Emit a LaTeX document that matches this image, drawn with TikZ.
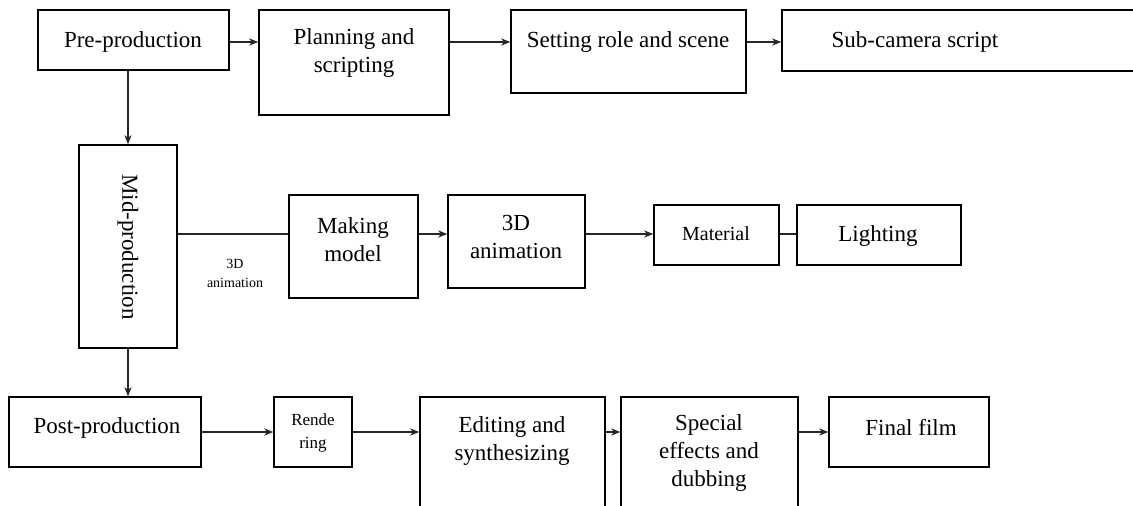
\documentclass[tikz,border=0pt]{standalone}
\usepackage{fontspec}
\setmainfont{Liberation Serif}
\usetikzlibrary{arrows.meta}
\newcommand\mkbox[5]{\node[box, minimum width={#4-#2}, minimum height={#5-#3}] (#1) at ({(#2+#4)/2},{(#3+#5)/2}) {};}
\begin{document}
\begin{tikzpicture}[x=1pt,y=-1pt,
  box/.style={draw=black, line width=1.4pt, inner sep=0pt},
  txt/.style={font=\fontsize{23}{28}\selectfont, align=center, inner sep=0pt},
  mtxt/.style={font=\fontsize{20}{24}\selectfont, align=center, inner sep=0pt},
  rtxt/.style={font=\fontsize{17}{23}\selectfont, align=center, inner sep=0pt},
  stxt/.style={font=\fontsize{14}{19}\selectfont, align=center, inner sep=0pt},
  conn/.style={draw=black!85, line width=1.3pt},
  arr/.style={conn, -{Stealth[length=9pt,width=7pt,inset=2.5pt]}}]
\useasboundingbox (0,0) rectangle (1133,506);
% boxes
\mkbox{pre}{38}{10}{229}{70}
\mkbox{plan}{259}{10}{449}{115}
\mkbox{set}{511}{10}{746}{93}
\mkbox{sub}{782}{10}{1145}{71}
\mkbox{mid}{79}{145}{177}{348}
\mkbox{mod}{289}{195}{418}{298}
\mkbox{anim}{448}{195}{585}{288}
\mkbox{mat}{654}{205}{779}{265}
\mkbox{light}{797}{205}{961}{265}
\mkbox{post}{9}{397}{201}{467}
\mkbox{rend}{274}{397}{352}{467}
\mkbox{edit}{420}{397}{605}{515}
\mkbox{spec}{621}{397}{798}{515}
\mkbox{final}{829}{397}{989}{467}
% texts
\node[txt] (preT) at (133,42) {Pre-production};
\node[txt] (planT) at (354,53) {Planning and\\scripting};
\node[txt] (setT) at (628,42) {Setting role and scene};
\node[txt] (subT) at (915,42) {Sub-camera script};
\node[txt, rotate=-90] (midT) at (128,247) {Mid-production};
\node[txt] (modT) at (353,240) {Making\\model};
\node[txt] (animT) at (516,237) {3D\\animation};
\node[mtxt] (matT) at (716,234) {Material};
\node[txt] (lightT) at (878,236) {Lighting};
\node[stxt] (lblT) at (235,273) {3D\\animation};
\node[txt] (postT) at (107,428) {Post-production};
\node[rtxt] (rendT) at (313,433) {Rende\\ring};
\node[txt] (editT) at (512,441) {Editing and\\synthesizing};
\node[txt] (specT) at (709,453) {Special\\effects and\\dubbing};
\node[txt] (finalT) at (911,428) {Final film};
% row lines
\coordinate (r1) at (0,42);
\coordinate (r2) at (0,234);
\coordinate (r3) at (0,432);
% connectors
\draw[arr] (pre.east |- r1) -- (plan.west |- r1);
\draw[arr] (plan.east |- r1) -- (set.west |- r1);
\draw[arr] (set.east |- r1) -- (sub.west |- r1);
\draw[arr] (mid.north |- pre.south) -- (mid.north);
\draw[arr] (mid.south) -- (mid.south |- post.north);
\draw[conn] (mid.east |- r2) -- (mod.west |- r2);
\draw[arr] (mod.east |- r2) -- (anim.west |- r2);
\draw[arr] (anim.east |- r2) -- (mat.west |- r2);
\draw[conn] (mat.east |- r2) -- (light.west |- r2);
\draw[arr] (post.east |- r3) -- (rend.west |- r3);
\draw[arr] (rend.east |- r3) -- (edit.west |- r3);
\draw[arr] (edit.east |- r3) -- (spec.west |- r3);
\draw[arr] (spec.east |- r3) -- (final.west |- r3);
\end{tikzpicture}
\end{document}
